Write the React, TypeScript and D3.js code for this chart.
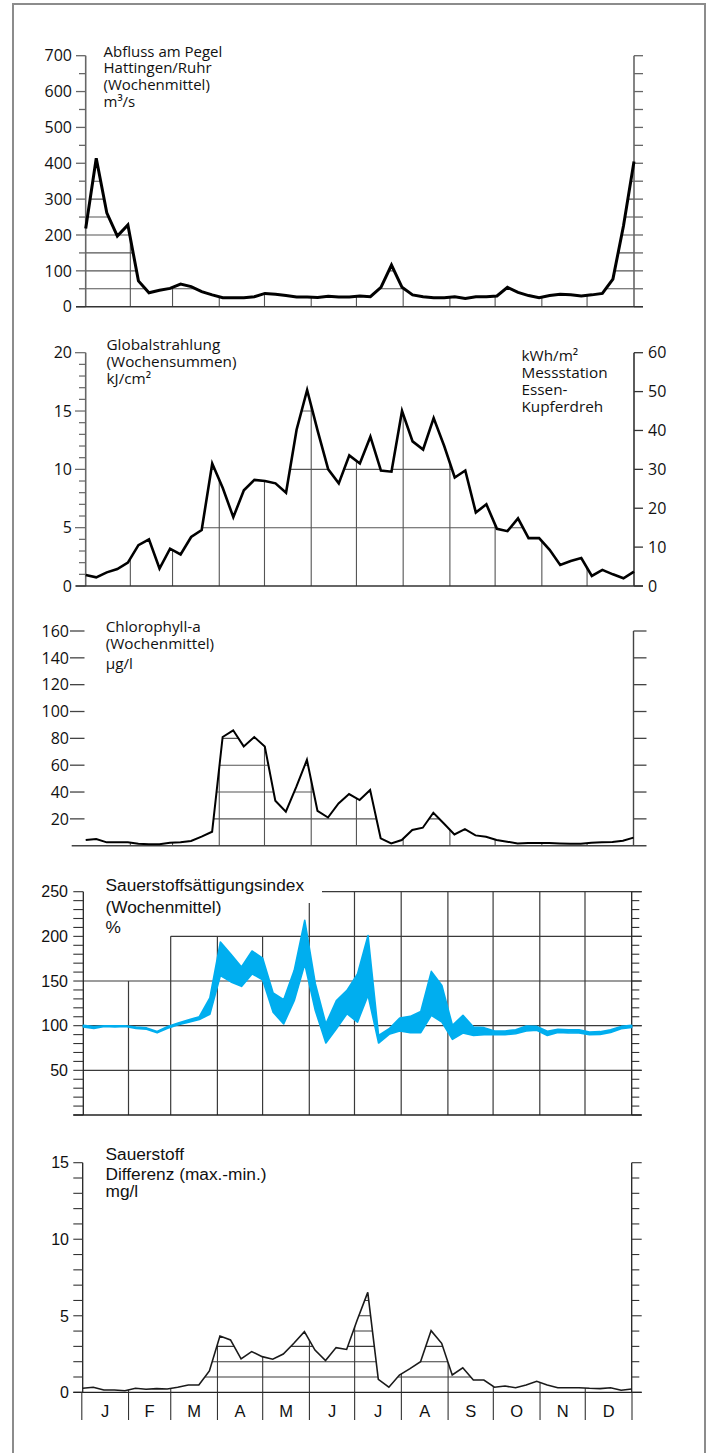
import React from 'react';
import * as d3 from 'd3';

// ---------- data ----------
const monthLabels = ['J', 'F', 'M', 'A', 'M', 'J', 'J', 'A', 'S', 'O', 'N', 'D'];
const monthDays = [31, 28, 31, 30, 31, 30, 31, 31, 30, 31, 30, 31];

// Abfluss am Pegel Hattingen/Ruhr, Wochenmittel, m³/s
const abfluss = [218, 414, 262, 197, 228, 72, 39, 46, 51, 63, 56, 42, 33, 25, 25, 25, 28, 37, 35, 31, 27, 27, 26, 29, 27, 27, 30, 28, 54, 116, 54, 33, 28, 25, 25, 28, 23, 28, 28, 30, 54, 40, 31, 25, 31, 35, 33, 30, 33, 37, 77, 225, 405];
const abflussTicks = [0, 100, 200, 300, 400, 500, 600, 700];

// Globalstrahlung, Wochensummen, kJ/cm²
const globalstrahlung = [0.94, 0.74, 1.17, 1.45, 2.0, 3.5, 4.0, 1.5, 3.2, 2.7, 4.2, 4.8, 10.5, 8.4, 5.9, 8.2, 9.1, 9.0, 8.8, 8.0, 13.4, 16.8, 13.3, 10.0, 8.8, 11.2, 10.5, 12.8, 9.9, 9.8, 15.0, 12.4, 11.7, 14.4, 12.0, 9.3, 9.9, 6.3, 7.0, 4.9, 4.7, 5.8, 4.1, 4.1, 3.1, 1.8, 2.15, 2.4, 0.86, 1.38, 1.0, 0.66, 1.24];
const strahlungTicks = [0, 5, 10, 15, 20];
const kwhTicks = [0, 10, 20, 30, 40, 50, 60];

// Chlorophyll-a, Wochenmittel, µg/l
const chlorophyll = [4.2, 5, 2.5, 2.5, 2.5, 1.5, 1, 1, 2.2, 2.5, 3.5, 6.7, 10.4, 81, 86, 74, 81, 74, 33.5, 25.3, 44, 64, 26, 21, 31.5, 38.5, 34, 41.5, 5.5, 1.7, 4.2, 11.7, 13.4, 24.6, 16.6, 8.4, 12.4, 7.7, 6.7, 4.2, 3, 1.7, 2, 2, 2, 1.7, 1.5, 1.5, 2.2, 2.5, 2.7, 3.7, 6];
const chlorophyllTicks = [20, 40, 60, 80, 100, 120, 140, 160];

// Sauerstoffsättigungsindex, Wochenmittel, % (band min / max)
const saettigungMin = [98.5, 97, 99, 98.5, 99, 97, 96, 92, 97, 101, 104, 107, 112.7, 156, 149, 144, 158, 151.5, 115, 102, 128, 169, 117, 80.6, 96.6, 113.4, 104, 134, 80.6, 90.3, 94, 92.2, 92.2, 111.6, 104, 84.7, 91.8, 89, 90, 90, 90, 91, 94, 94.8, 89, 92.5, 92, 91.8, 90, 90.3, 92.5, 96.6, 98];
const saettigungMax = [100.5, 99, 100, 100, 100, 98.5, 97.5, 93.5, 99, 103, 106.5, 110, 131, 193.7, 180, 165.7, 183.6, 175.7, 136.6, 129, 162, 218, 147, 102, 128, 139.5, 158, 201, 89, 96.6, 108.6, 110.4, 116, 160.8, 145, 100.4, 111.6, 98.5, 97.8, 94, 94, 95.5, 99.6, 99.2, 93.7, 95.9, 95.5, 95.5, 93, 93.3, 95.5, 99.2, 100.4];
const saettigungTicks = [50, 100, 150, 200, 250];
const saettigungGridTop = [150, 150, 200, 200, 200, 250, 250, 250, 250, 250, 250, 250];

// Sauerstoff Differenz (max.-min.), mg/l
const sauerstoffDiff = [0.26, 0.33, 0.15, 0.15, 0.1, 0.26, 0.2, 0.24, 0.22, 0.33, 0.48, 0.48, 1.4, 3.68, 3.42, 2.18, 2.66, 2.33, 2.16, 2.5, 3.2, 3.96, 2.76, 2.07, 2.92, 2.8, 4.72, 6.53, 0.85, 0.33, 1.13, 1.55, 2.0, 4.03, 3.2, 1.13, 1.6, 0.8, 0.8, 0.33, 0.41, 0.3, 0.48, 0.72, 0.48, 0.3, 0.3, 0.3, 0.26, 0.24, 0.3, 0.13, 0.22];
const diffTicks = [0, 5, 10, 15];

// ---------- helpers ----------
const monthStarts = [0, ...Array.from(d3.cumsum(monthDays))];
const FRUT = "'Open Sans', 'Noto Sans', sans-serif";
const HELV = "'Liberation Sans', Arial, sans-serif";
const GRID = '#555';

type Scale = d3.ScaleLinear<number, number>;

function UnderGrid(props: {
  id: string; values: number[]; xw: Scale; y: Scale; levels: number[]; xd: Scale;
  x0: number; x1: number; stroke: string; sw: number;
}) {
  const { id, values, xw, y, levels, xd, x0, x1, stroke, sw } = props;
  const area = d3.area<number>().x((_, i) => xw(i)).y0(y(0)).y1((d) => y(d));
  const yb = y(0);
  const top = y(d3.max(values) as number) - 2;
  return (
    <g>
      <defs>
        <clipPath id={id}>
          <path d={area(values) as string} />
        </clipPath>
      </defs>
      <g clipPath={`url(#${id})`}>
        {levels.map((l) => (
          <line key={'h' + l} x1={x0} x2={x1} y1={y(l)} y2={y(l)} stroke={stroke} strokeWidth={sw} />
        ))}
        {monthStarts.slice(1, 12).map((d) => (
          <line key={'v' + d} x1={xd(d)} x2={xd(d)} y1={yb} y2={top} stroke={stroke} strokeWidth={sw} />
        ))}
      </g>
    </g>
  );
}

function Title({ x, ys, lines, font, size }: { x: number; ys: number[]; lines: string[]; font: string; size: number }) {
  return (
    <g fontFamily={font} fontSize={size} fill="#111">
      {lines.map((t, i) => (
        <text key={i} x={x} y={ys[i]}>{t}</text>
      ))}
    </g>
  );
}

export default function App() {
  // ---------- Panel 1: Abfluss ----------
  const p1 = { x0: 85.7, x1: 634, yb: 306.7, yt: 55.7 };
  const xw1 = d3.scaleLinear().domain([0, 52]).range([p1.x0, p1.x1]);
  const xd1 = d3.scaleLinear().domain([0, 365]).range([83.6, 633.8]);
  const y1 = d3.scaleLinear().domain([0, 700]).range([p1.yb, p1.yt]);
  const line1 = d3.line<number>().x((_, i) => xw1(i)).y((d) => y1(d));

  // ---------- Panel 2: Globalstrahlung ----------
  const p2 = { x0: 85.7, x1: 634, yb: 586, yt: 352.7 };
  const xw2 = d3.scaleLinear().domain([0, 52]).range([p2.x0, p2.x1]);
  const y2 = d3.scaleLinear().domain([0, 20]).range([p2.yb, p2.yt]);
  const y2r = d3.scaleLinear().domain([0, 60]).range([p2.yb, p2.yt]);
  const line2 = d3.line<number>().x((_, i) => xw2(i)).y((d) => y2(d));

  // ---------- Panel 3: Chlorophyll ----------
  const p3 = { x0: 85.7, x1: 633.5, yb: 845.7, yt: 631 };
  const xw3 = d3.scaleLinear().domain([0, 52]).range([p3.x0, p3.x1]);
  const y3 = d3.scaleLinear().domain([0, 160]).range([p3.yb, p3.yt]);
  const line3 = d3.line<number>().x((_, i) => xw3(i)).y((d) => y3(d));

  // ---------- Panel 4: Sättigungsindex ----------
  const p4 = { x0: 83.3, x1: 631.7, yb: 1115, yt: 891.7 };
  const xw4 = d3.scaleLinear().domain([0, 52]).range([p4.x0, p4.x1]);
  const xd4 = d3.scaleLinear().domain([0, 365]).range([81.8, 631.7]);
  const y4 = d3.scaleLinear().domain([0, 250]).range([p4.yb, p4.yt]);
  const band = d3
    .area<number>()
    .x((_, i) => xw4(i))
    .y0((_, i) => y4(saettigungMin[i]))
    .y1((d) => y4(d));

  // ---------- Panel 5: Sauerstoff Differenz ----------
  const p5 = { x0: 82.7, x1: 631.7, yb: 1392.3, yt: 1162.7 };
  const xw5 = d3.scaleLinear().domain([0, 52]).range([p5.x0, p5.x1]);
  const xd5 = d3.scaleLinear().domain([0, 365]).range([81.8, 632]);
  const y5 = d3.scaleLinear().domain([0, 15]).range([p5.yb, p5.yt]);
  const line5 = d3.line<number>().x((_, i) => xw5(i)).y((d) => y5(d));

  const axisCol = '#666';

  return (
    <svg
      width={716}
      height={1453}
      style={{ position: 'absolute', left: 0, top: 0, background: '#fff' }}
      xmlns="http://www.w3.org/2000/svg"
    >
      <rect x={0} y={0} width={716} height={1453} fill="#fff" />
      <rect x={13} y={4} width={692} height={1480} fill="none" stroke="#8c8c8c" strokeWidth={2} />

      {/* ================= Panel 1 ================= */}
      <g>
        <UnderGrid id="c1" values={abfluss} xw={xw1} y={y1} xd={xd1}
          levels={d3.range(50, 701, 50)} x0={p1.x0} x1={p1.x1} stroke={GRID} sw={1.1} />
        <line x1={p1.x0} x2={p1.x0} y1={p1.yb} y2={p1.yt} stroke={axisCol} strokeWidth={1.6} />
        {d3.range(0, 701, 50).map((v) => (
          <line key={v} x1={v % 100 === 0 ? 76 : 79} x2={p1.x0} y1={y1(v)} y2={y1(v)} stroke={axisCol} strokeWidth={1.3} />
        ))}
        {abflussTicks.map((v) => (
          <text key={v} x={72} y={y1(v)} dy="0.36em" textAnchor="end" fontFamily={FRUT} fontSize={16} fill="#111">{v}</text>
        ))}
        <line x1={p1.x1} x2={p1.x1} y1={p1.yb} y2={p1.yt} stroke={axisCol} strokeWidth={1.6} />
        {d3.range(0, 701, 50).map((v) => (
          <line key={'r' + v} x1={p1.x1} x2={p1.x1 + 9} y1={y1(v)} y2={y1(v)} stroke={axisCol} strokeWidth={1.3} />
        ))}
        <line x1={76} x2={p1.x1 + 9} y1={p1.yb} y2={p1.yb} stroke="#333" strokeWidth={1.4} />
        <path d={line1(abfluss) as string} fill="none" stroke="#000" strokeWidth={3} strokeLinejoin="miter" />
        <Title x={103.5} ys={[56.5, 73.3, 90, 107]} font={FRUT} size={15}
          lines={['Abfluss am Pegel', 'Hattingen/Ruhr', '(Wochenmittel)', 'm³/s']} />
      </g>

      {/* ================= Panel 2 ================= */}
      <g>
        <UnderGrid id="c2" values={globalstrahlung} xw={xw2} y={y2} xd={xd1}
          levels={[5, 10, 15]} x0={p2.x0} x1={p2.x1} stroke={GRID} sw={1.1} />
        <line x1={p2.x0} x2={p2.x0} y1={p2.yb} y2={p2.yt} stroke={axisCol} strokeWidth={1.6} />
        {d3.range(0, 21, 1).map((v) => (
          <line key={v} x1={v % 5 === 0 ? 75 : 79} x2={p2.x0} y1={y2(v)} y2={y2(v)} stroke={axisCol} strokeWidth={1.2} />
        ))}
        {strahlungTicks.map((v) => (
          <text key={v} x={72} y={y2(v)} dy="0.36em" textAnchor="end" fontFamily={FRUT} fontSize={16} fill="#111">{v}</text>
        ))}
        <line x1={p2.x1} x2={p2.x1} y1={p2.yb} y2={p2.yt} stroke="#333" strokeWidth={1.6} />
        {kwhTicks.map((v) => (
          <g key={'r' + v}>
            <line x1={p2.x1} x2={p2.x1 + 9} y1={y2r(v)} y2={y2r(v)} stroke="#333" strokeWidth={1.3} />
            <text x={648} y={y2r(v)} dy="0.36em" fontFamily={FRUT} fontSize={16} fill="#111">{v}</text>
          </g>
        ))}
        <line x1={76} x2={p2.x1 + 9} y1={p2.yb} y2={p2.yb} stroke="#333" strokeWidth={1.4} />
        <path d={line2(globalstrahlung) as string} fill="none" stroke="#000" strokeWidth={2.6} strokeLinejoin="miter" />
        <Title x={106.5} ys={[350, 367, 384]} font={FRUT} size={15.3}
          lines={['Globalstrahlung', '(Wochensummen)', 'kJ/cm²']} />
        <Title x={521.5} ys={[361, 378, 395, 412]} font={FRUT} size={15.3}
          lines={['kWh/m²', 'Messstation', 'Essen-', 'Kupferdreh']} />
      </g>

      {/* ================= Panel 3 ================= */}
      <g>
        <UnderGrid id="c3" values={chlorophyll} xw={xw3} y={y3} xd={xd1}
          levels={[20, 40, 60, 80]} x0={p3.x0} x1={p3.x1} stroke={GRID} sw={1.1} />
        {chlorophyllTicks.map((v) => (
          <g key={v}>
            <line x1={70} x2={84.5} y1={y3(v)} y2={y3(v)} stroke="#444" strokeWidth={1.3} />
            <text x={69} y={y3(v)} dy="0.36em" textAnchor="end" fontFamily={FRUT} fontSize={16} fill="#111">{v}</text>
          </g>
        ))}
        <line x1={p3.x1} x2={p3.x1} y1={p3.yb} y2={p3.yt} stroke="#444" strokeWidth={1.4} />
        {d3.range(20, 161, 20).map((v) => (
          <line key={'r' + v} x1={p3.x1} x2={p3.x1 + 13} y1={y3(v)} y2={y3(v)} stroke="#444" strokeWidth={1.3} />
        ))}
        <line x1={71.7} x2={p3.x1 + 13} y1={p3.yb} y2={p3.yb} stroke="#444" strokeWidth={1.4} />
        <path d={line3(chlorophyll) as string} fill="none" stroke="#000" strokeWidth={2} strokeLinejoin="miter" />
        <Title x={105.7} ys={[632, 649, 669]} font={FRUT} size={15.3}
          lines={['Chlorophyll-a', '(Wochenmittel)', 'µg/l']} />
      </g>

      {/* ================= Panel 4 ================= */}
      <g>
        {saettigungTicks.map((v) => {
          const firstMonth = saettigungGridTop.findIndex((t) => t >= v);
          const xs = firstMonth <= 0 ? p4.x0 : xd4(monthStarts[firstMonth]);
          return <line key={v} x1={xs} x2={p4.x1 + 10} y1={y4(v)} y2={y4(v)} stroke="#3a3a3a" strokeWidth={1.2} />;
        })}
        {monthStarts.slice(1, 12).map((d, k) => {
          const top = Math.max(saettigungGridTop[k], saettigungGridTop[k + 1]);
          return <line key={'v' + d} x1={xd4(d)} x2={xd4(d)} y1={p4.yb} y2={y4(top)} stroke="#3a3a3a" strokeWidth={1.2} />;
        })}
        <line x1={p4.x0} x2={p4.x0} y1={p4.yb} y2={p4.yt} stroke="#222" strokeWidth={1.3} />
        {d3.range(0, 251, 10).map((v) => (
          <line key={'l' + v} x1={73.3} x2={p4.x0} y1={y4(v)} y2={y4(v)} stroke="#333" strokeWidth={1.1} />
        ))}
        {saettigungTicks.map((v) => (
          <text key={'t' + v} x={68} y={y4(v)} dy="0.36em" textAnchor="end" fontFamily={HELV} fontSize={16} fill="#111">{v}</text>
        ))}
        <line x1={p4.x1} x2={p4.x1} y1={p4.yb} y2={p4.yt} stroke="#222" strokeWidth={1.3} />
        {d3.range(0, 251, 10).map((v) => (
          <line key={'r' + v} x1={p4.x1} x2={p4.x1 + (v % 50 === 0 ? 10 : 7.6)} y1={y4(v)} y2={y4(v)} stroke="#333" strokeWidth={1.1} />
        ))}
        <line x1={73.3} x2={p4.x1 + 10} y1={p4.yb} y2={p4.yb} stroke="#222" strokeWidth={1.3} />
        <path d={band(saettigungMax) as string} fill="#00aeef" stroke="#00aeef" strokeWidth={1.6} strokeLinejoin="round" />
        <rect x={100} y={875} width={222} height={28} fill="#fff" />
        <Title x={105.5} ys={[890.5, 913, 933]} font={HELV} size={17.3}
          lines={['Sauerstoffsättigungsindex', '(Wochenmittel)', '%']} />
      </g>

      {/* ================= Panel 5 ================= */}
      <g>
        <UnderGrid id="c5" values={sauerstoffDiff} xw={xw5} y={y5} xd={xd5}
          levels={[1, 2, 3, 4, 5, 6]} x0={p5.x0} x1={p5.x1} stroke="#3a3a3a" sw={1.1} />
        <line x1={p5.x0} x2={p5.x0} y1={p5.yb} y2={p5.yt} stroke="#222" strokeWidth={1.3} />
        {d3.range(0, 16, 1).map((v) => (
          <line key={'l' + v} x1={73.3} x2={p5.x0} y1={y5(v)} y2={y5(v)} stroke="#333" strokeWidth={1.1} />
        ))}
        {diffTicks.map((v) => (
          <text key={'t' + v} x={69} y={y5(v)} dy="0.36em" textAnchor="end" fontFamily={HELV} fontSize={16} fill="#111">{v}</text>
        ))}
        <line x1={p5.x1} x2={p5.x1} y1={p5.yb} y2={p5.yt} stroke="#222" strokeWidth={1.3} />
        {d3.range(0, 16, 1).map((v) => (
          <line key={'r' + v} x1={p5.x1} x2={p5.x1 + (v % 5 === 0 ? 10 : 7.6)} y1={y5(v)} y2={y5(v)} stroke="#333" strokeWidth={1.1} />
        ))}
        <line x1={73.3} x2={p5.x1 + 10} y1={p5.yb} y2={p5.yb} stroke="#222" strokeWidth={1.3} />
        {monthStarts.map((d) => (
          <line key={'s' + d} x1={xd5(d)} x2={xd5(d)} y1={p5.yb} y2={1420} stroke="#333" strokeWidth={1.1} />
        ))}
        {monthLabels.map((m, k) => (
          <text key={'m' + k} x={xd5((monthStarts[k] + monthStarts[k + 1]) / 2)} y={1417} textAnchor="middle"
            fontFamily={HELV} fontSize={16.5} fill="#111">{m}</text>
        ))}
        <path d={line5(sauerstoffDiff) as string} fill="none" stroke="#1a1a1a" strokeWidth={1.6} strokeLinejoin="miter" />
        <Title x={105.5} ys={[1159.5, 1180, 1197]} font={HELV} size={17.3}
          lines={['Sauerstoff', 'Differenz (max.-min.)', 'mg/l']} />
      </g>
    </svg>
  );
}
